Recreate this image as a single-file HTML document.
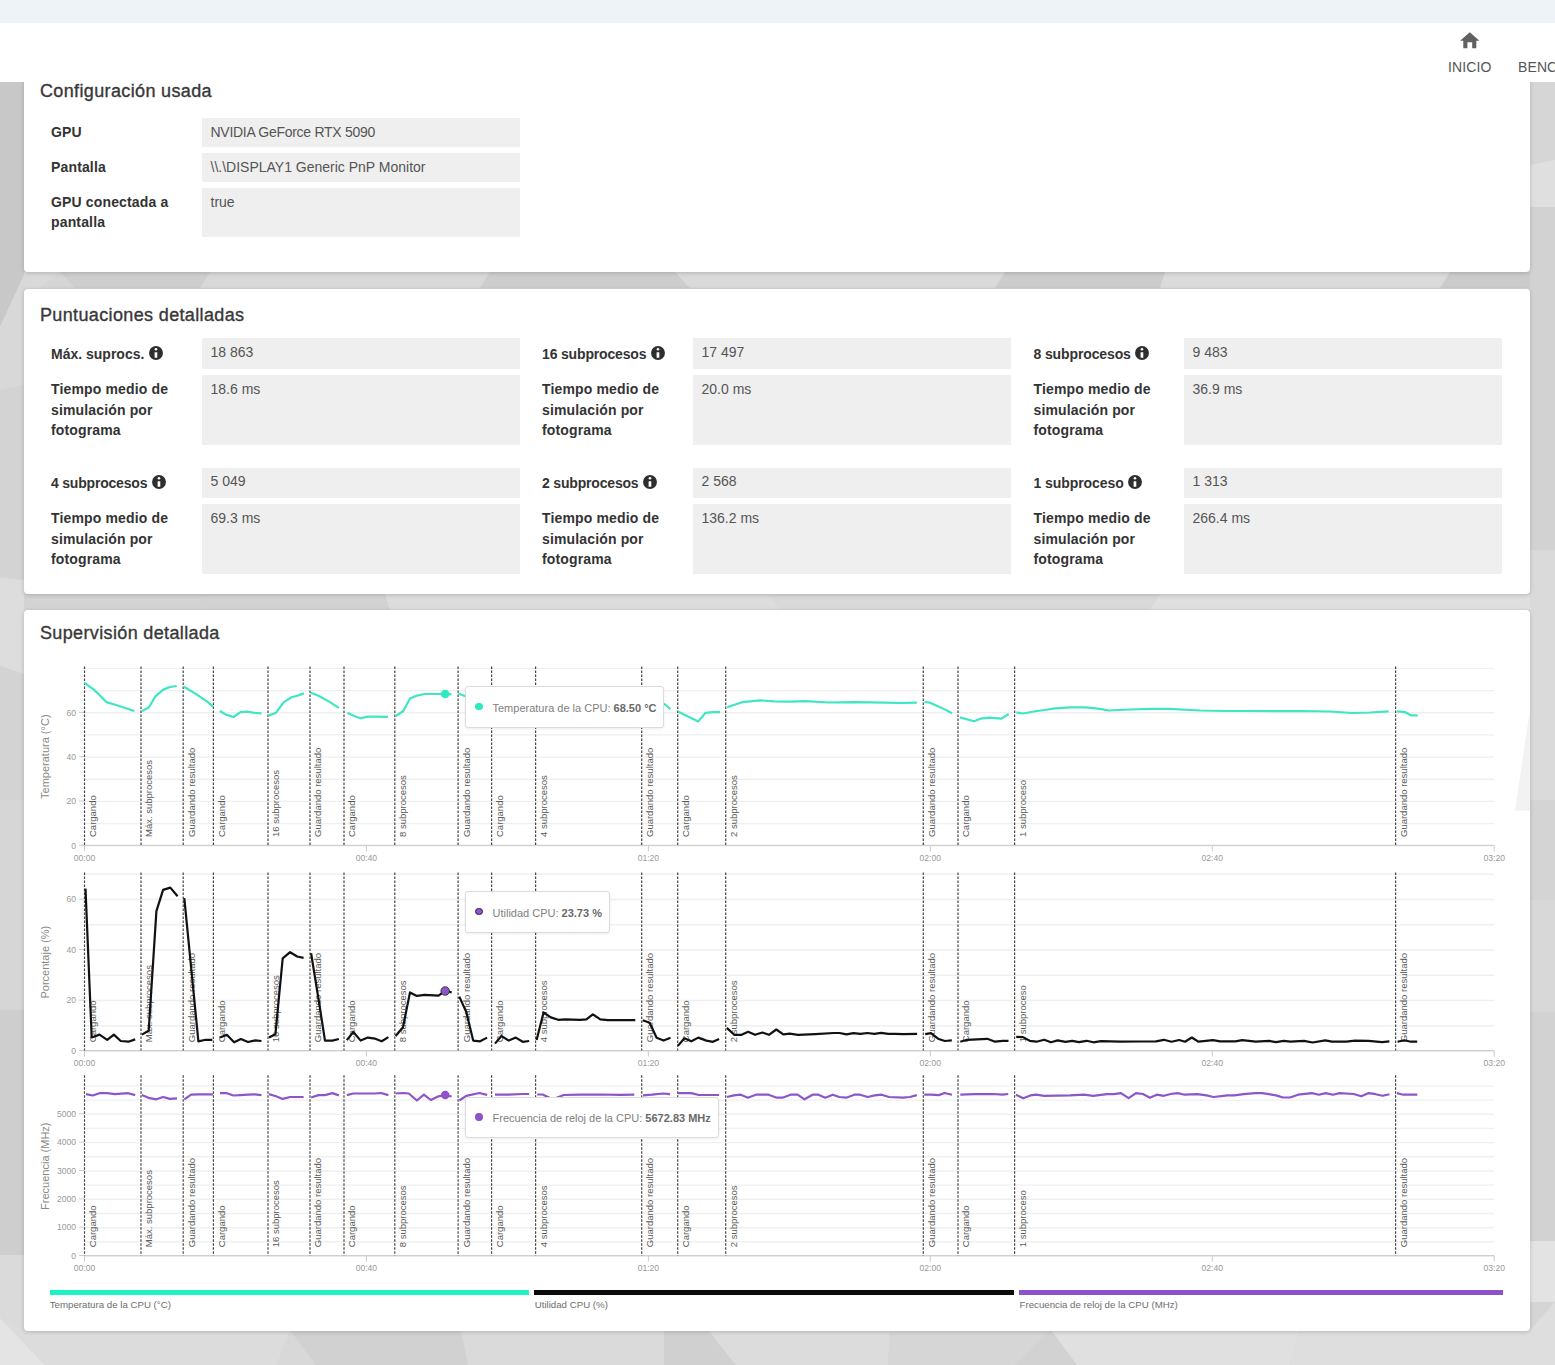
<!DOCTYPE html>
<html lang="es"><head><meta charset="utf-8"><title>Resultado</title>
<style>
*{box-sizing:border-box;margin:0;padding:0}
html,body{width:1555px;height:1365px;overflow:hidden}
body{position:relative;font-family:"Liberation Sans",Arial,sans-serif;background:#d5d5d5;}
.bg{position:absolute;left:0;top:0}
.topstrip{position:absolute;left:0;top:0;width:1555px;height:22.5px;background:#eef3f7}
.header{position:absolute;left:0;top:22.5px;width:1555px;height:59.5px;background:#fff;z-index:5}
.home{position:absolute;left:1459.8px;top:9.8px}
.nav{position:absolute;top:36.45px;font-size:14px;line-height:17px;color:#555;white-space:nowrap;letter-spacing:0.1px}
.card{position:absolute;left:24px;width:1506px;background:#fff;border-radius:4px;box-shadow:0 1px 4px rgba(0,0,0,.18)}
.ttl,.lab,.val,.ttxt,.ltx{position:absolute;white-space:nowrap}
.ttl{font-size:18px;line-height:24px;color:#383838;letter-spacing:0.36px;-webkit-text-stroke:0.35px #383838}
.lab{font-size:14px;line-height:20.5px;font-weight:bold;color:#333;letter-spacing:0.15px}
.val{font-size:14px;line-height:20.5px;color:#555}
.vbox{position:absolute;background:#efefef}
.ico{position:absolute;z-index:2}
.charts{position:absolute;left:0;top:0;z-index:2}
.charts text{font-family:"Liberation Sans",Arial,sans-serif}
.yl{font-size:8.6px;fill:#999;text-anchor:end}
.xl{font-size:8.6px;fill:#999;text-anchor:middle}
.yt{font-size:11px;fill:#888;text-anchor:middle}
.ev{font-size:9.5px;fill:#5a5a5a}
.tip{position:absolute;background:#fff;border:1px solid #dcdcdc;border-radius:3px;box-shadow:0 1px 3px rgba(0,0,0,.08);z-index:3}
.tdot{position:absolute;width:7.4px;height:7.4px;border-radius:50%;z-index:4}
.ttxt{font-size:11px;line-height:14px;color:#808080;z-index:4}
.ttxt b{color:#6a6a6a}
.lbar{position:absolute;top:1289.8px;height:4.8px;z-index:2}
.ltx{font-size:9.7px;line-height:12px;color:#6e6e6e;z-index:2}
</style></head>
<body>
<svg class="bg" width="1555" height="1365" viewBox="0 0 1555 1365">
<rect width="1555" height="1365" fill="#d5d5d5"/>
<polygon points="0,60 24,60 24,275 0,327" fill="#c8c8c8"/>
<polygon points="0,327 24,275 24,385 0,390" fill="#d8d8d8"/>
<polygon points="0,390 24,385 24,580 0,575" fill="#d3d3d3"/>
<polygon points="0,578 24,580 24,674 0,666" fill="#dddddd"/>
<polygon points="0,666 24,674 24,800 0,800" fill="#d3d3d3"/>
<polygon points="0,800 24,800 24,1010 0,1010" fill="#d6d6d6"/>
<polygon points="0,1010 24,1010 24,1255 0,1255" fill="#cecece"/>
<polygon points="0,1255 24,1255 24,1330 0,1318" fill="#dadada"/>
<polygon points="0,1318 45,1365 0,1365" fill="#e4e4e4"/>
<polygon points="0,1318 24,1330 290,1330 277,1365 45,1365" fill="#dcdcdc"/>
<polygon points="290,1330 316,1365 277,1365" fill="#d8d8d8"/>
<polygon points="290,1330 461,1330 468,1365 316,1365" fill="#d1d1d1"/>
<polygon points="461,1330 664,1330 664,1365 468,1365" fill="#dadada"/>
<polygon points="664,1330 708,1330 736,1365 664,1365" fill="#d0d0d0"/>
<polygon points="708,1330 890,1330 888,1365 736,1365" fill="#dcdcdc"/>
<polygon points="890,1330 1051,1330 1015,1365 888,1365" fill="#d6d6d6"/>
<polygon points="1051,1330 1077,1365 1015,1365" fill="#d2d2d2"/>
<polygon points="1051,1330 1300,1330 1290,1365 1077,1365" fill="#e0e0e0"/>
<polygon points="1300,1330 1530,1330 1555,1302 1555,1365 1290,1365" fill="#dedede"/>
<polygon points="24,272 60,272 40,288 24,288" fill="#d9d9d9"/>
<polygon points="60,272 210,272 200,288 75,288" fill="#cecece"/>
<polygon points="210,272 490,272 480,288 200,288" fill="#d8d8d8"/>
<polygon points="490,272 675,272 690,288 480,288" fill="#cdcdcd"/>
<polygon points="675,272 1005,272 995,288 690,288" fill="#dadada"/>
<polygon points="1005,272 1165,272 1160,288 995,288" fill="#cccccc"/>
<polygon points="1165,272 1450,272 1440,288 1160,288" fill="#dbdbdb"/>
<polygon points="1450,272 1530,272 1530,288 1440,288" fill="#cbcbcb"/>
<polygon points="24,594 200,594 210,610 24,610" fill="#d3d3d3"/>
<polygon points="200,594 385,594 390,610 210,610" fill="#d2d2d2"/>
<polygon points="385,594 770,594 780,610 390,610" fill="#dcdcdc"/>
<polygon points="770,594 1160,594 1150,610 780,610" fill="#d9d9d9"/>
<polygon points="1160,594 1530,594 1530,610 1150,610" fill="#dfdfdf"/>
<polygon points="1530,60 1555,60 1555,160 1530,165" fill="#d6d6d6"/>
<polygon points="1530,165 1555,160 1555,207 1530,207" fill="#dfdfdf"/>
<polygon points="1530,207 1555,207 1555,550 1530,550" fill="#d2d2d2"/>
<polygon points="1530,550 1555,550 1555,800 1530,800" fill="#dadada"/>
<polygon points="1530,800 1555,800 1555,900 1530,900" fill="#d4d4d4"/>
<polygon points="1530,900 1555,900 1555,1012 1530,1012" fill="#d8d8d8"/>
<polygon points="1530,1012 1555,1012 1555,1241 1530,1241" fill="#d2d2d2"/>
<polygon points="1530,1241 1555,1241 1555,1302 1530,1302" fill="#e3e3e3"/>
</svg>
<div class="topstrip"></div>
<div class="header">
<svg class="home" width="20" height="17" viewBox="0 0 20 17"><path d="M9.8,0.2 L19.4,8.8 L16.3,8.8 L16.3,16.2 L12.2,16.2 L12.2,10.3 L7.4,10.3 L7.4,16.2 L3.3,16.2 L3.3,8.8 L0.1,8.8 Z" fill="#606060"/></svg>
<div class="nav" style="left:1448px">INICIO</div>
<div class="nav" style="left:1518px">BENCHMARKS</div>
</div>
<div class="card" style="top:40px;height:232.3px"></div>
<div class="card" style="top:288.5px;height:305.5px"></div>
<div class="card" style="top:610px;height:720.5px"></div>
<div class="ttl" style="left:40px;top:79.06px;">Configuración usada</div>
<div class="vbox" style="left:202px;top:118.4px;width:318px;height:28.2px"></div>
<div class="lab" style="left:51px;top:121.80px;">GPU</div>
<div class="val" style="left:210.5px;top:122.00px;letter-spacing:-0.28px;">NVIDIA GeForce RTX 5090</div>
<div class="vbox" style="left:202px;top:153.3px;width:318px;height:28.4px"></div>
<div class="lab" style="left:51px;top:156.70px;">Pantalla</div>
<div class="val" style="left:210.5px;top:156.70px;">\\.\DISPLAY1 Generic PnP Monitor</div>
<div class="vbox" style="left:202px;top:187.9px;width:318px;height:49.3px"></div>
<div class="lab" style="left:51px;top:191.90px;">GPU conectada a<br>pantalla</div>
<div class="val" style="left:210.5px;top:191.50px;">true</div>
<div class="ttl" style="left:40px;top:302.76px;">Puntuaciones detalladas</div>
<svg class="ico" style="left:148.9px;top:345.8px" width="14" height="14" viewBox="0 0 14 14"><circle cx="7" cy="7" r="6.95" fill="#2e2e2e"/><circle cx="6.95" cy="3.25" r="1.3" fill="#fff"/><rect x="5.6" y="6.3" width="2.7" height="5.5" rx="0.3" fill="#fff"/></svg>
<svg class="ico" style="left:651.0px;top:346.1px" width="14" height="14" viewBox="0 0 14 14"><circle cx="7" cy="7" r="6.95" fill="#2e2e2e"/><circle cx="6.95" cy="3.25" r="1.3" fill="#fff"/><rect x="5.6" y="6.3" width="2.7" height="5.5" rx="0.3" fill="#fff"/></svg>
<svg class="ico" style="left:1134.9px;top:345.9px" width="14" height="14" viewBox="0 0 14 14"><circle cx="7" cy="7" r="6.95" fill="#2e2e2e"/><circle cx="6.95" cy="3.25" r="1.3" fill="#fff"/><rect x="5.6" y="6.3" width="2.7" height="5.5" rx="0.3" fill="#fff"/></svg>
<svg class="ico" style="left:151.9px;top:475.4px" width="14" height="14" viewBox="0 0 14 14"><circle cx="7" cy="7" r="6.95" fill="#2e2e2e"/><circle cx="6.95" cy="3.25" r="1.3" fill="#fff"/><rect x="5.6" y="6.3" width="2.7" height="5.5" rx="0.3" fill="#fff"/></svg>
<svg class="ico" style="left:643.2px;top:475.3px" width="14" height="14" viewBox="0 0 14 14"><circle cx="7" cy="7" r="6.95" fill="#2e2e2e"/><circle cx="6.95" cy="3.25" r="1.3" fill="#fff"/><rect x="5.6" y="6.3" width="2.7" height="5.5" rx="0.3" fill="#fff"/></svg>
<svg class="ico" style="left:1127.8px;top:475.4px" width="14" height="14" viewBox="0 0 14 14"><circle cx="7" cy="7" r="6.95" fill="#2e2e2e"/><circle cx="6.95" cy="3.25" r="1.3" fill="#fff"/><rect x="5.6" y="6.3" width="2.7" height="5.5" rx="0.3" fill="#fff"/></svg>
<div class="vbox" style="left:202px;top:338.2px;width:318px;height:30.7px"></div>
<div class="vbox" style="left:202px;top:375.1px;width:318px;height:69.9px"></div>
<div class="lab" style="left:51px;top:343.80px;letter-spacing:0px;">Máx. suprocs.</div>
<div class="val" style="left:210.5px;top:342.00px;">18 863</div>
<div class="lab" style="left:51px;top:379.00px;">Tiempo medio de<br>simulación por<br>fotograma</div>
<div class="val" style="left:210.5px;top:379.00px;">18.6 ms</div>
<div class="vbox" style="left:202px;top:467.6px;width:318px;height:30.6px"></div>
<div class="vbox" style="left:202px;top:504.4px;width:318px;height:69.6px"></div>
<div class="lab" style="left:51px;top:472.90px;letter-spacing:-0.2px;">4 subprocesos</div>
<div class="val" style="left:210.5px;top:471.30px;">5 049</div>
<div class="lab" style="left:51px;top:508.30px;">Tiempo medio de<br>simulación por<br>fotograma</div>
<div class="val" style="left:210.5px;top:508.30px;">69.3 ms</div>
<div class="vbox" style="left:693px;top:338.2px;width:318px;height:30.7px"></div>
<div class="vbox" style="left:693px;top:375.1px;width:318px;height:69.9px"></div>
<div class="lab" style="left:542px;top:343.80px;letter-spacing:-0.16px;">16 subprocesos</div>
<div class="val" style="left:701.5px;top:342.00px;">17 497</div>
<div class="lab" style="left:542px;top:379.00px;">Tiempo medio de<br>simulación por<br>fotograma</div>
<div class="val" style="left:701.5px;top:379.00px;">20.0 ms</div>
<div class="vbox" style="left:693px;top:467.6px;width:318px;height:30.6px"></div>
<div class="vbox" style="left:693px;top:504.4px;width:318px;height:69.6px"></div>
<div class="lab" style="left:542px;top:472.90px;letter-spacing:-0.18px;">2 subprocesos</div>
<div class="val" style="left:701.5px;top:471.30px;">2 568</div>
<div class="lab" style="left:542px;top:508.30px;">Tiempo medio de<br>simulación por<br>fotograma</div>
<div class="val" style="left:701.5px;top:508.30px;">136.2 ms</div>
<div class="vbox" style="left:1184px;top:338.2px;width:318px;height:30.7px"></div>
<div class="vbox" style="left:1184px;top:375.1px;width:318px;height:69.9px"></div>
<div class="lab" style="left:1033.5px;top:343.80px;letter-spacing:-0.12px;">8 subprocesos</div>
<div class="val" style="left:1192.5px;top:342.00px;">9 483</div>
<div class="lab" style="left:1033.5px;top:379.00px;">Tiempo medio de<br>simulación por<br>fotograma</div>
<div class="val" style="left:1192.5px;top:379.00px;">36.9 ms</div>
<div class="vbox" style="left:1184px;top:467.6px;width:318px;height:30.6px"></div>
<div class="vbox" style="left:1184px;top:504.4px;width:318px;height:69.6px"></div>
<div class="lab" style="left:1033.5px;top:472.90px;letter-spacing:-0.07px;">1 subproceso</div>
<div class="val" style="left:1192.5px;top:471.30px;">1 313</div>
<div class="lab" style="left:1033.5px;top:508.30px;">Tiempo medio de<br>simulación por<br>fotograma</div>
<div class="val" style="left:1192.5px;top:508.30px;">266.4 ms</div>
<div class="ttl" style="left:40px;top:620.56px;">Supervisión detallada</div>
<svg class="charts" width="1555" height="1365" viewBox="0 0 1555 1365">
<polygon points="1529.9,710.5 1515,810.5 1530,810.5" fill="#f2f2f2"/>
<path d="M84.5,845.8 H1494.2 M84.5,823.6 H1494.2 M84.5,801.4 H1494.2 M84.5,779.3 H1494.2 M84.5,757.1 H1494.2 M84.5,734.9 H1494.2 M84.5,712.7 H1494.2 M84.5,690.6 H1494.2 M84.5,668.4 H1494.2" stroke="#efefef" stroke-width="1.4" fill="none"/>
<path d="M79,845.4 H84.5 M79,801.0 H84.5 M79,756.7 H84.5 M79,712.4 H84.5" stroke="#ccc" stroke-width="1" fill="none"/>
<text x="76" y="848.5" class="yl">0</text>
<text x="76" y="804.1" class="yl">20</text>
<text x="76" y="759.8" class="yl">40</text>
<text x="76" y="715.5" class="yl">60</text>
<text transform="translate(48.6,756.7) rotate(-90)" class="yt">Temperatura (°C)</text>
<path d="M84.5,845.4 H1494.2" stroke="#d0d0d0" stroke-width="1.3" fill="none"/>
<path d="M84.5,845.4 V851.4 M366.4,845.4 V851.4 M648.4,845.4 V851.4 M930.3,845.4 V851.4 M1212.3,845.4 V851.4 M1494.2,845.4 V851.4" stroke="#ccc" stroke-width="1" fill="none"/>
<text x="84.5" y="860.7" class="xl">00:00</text>
<text x="366.4" y="860.7" class="xl">00:40</text>
<text x="648.4" y="860.7" class="xl">01:20</text>
<text x="930.3" y="860.7" class="xl">02:00</text>
<text x="1212.3" y="860.7" class="xl">02:40</text>
<text x="1494.2" y="860.7" class="xl">03:20</text>
<path d="M84.5,666.5 V845.4 M141.0,666.5 V845.4 M183.2,666.5 V845.4 M213.4,666.5 V845.4 M268.0,666.5 V845.4 M310.0,666.5 V845.4 M344.0,666.5 V845.4 M394.8,666.5 V845.4 M458.1,666.5 V845.4 M491.6,666.5 V845.4 M535.6,666.5 V845.4 M641.7,666.5 V845.4 M677.7,666.5 V845.4 M725.7,666.5 V845.4 M923.3,666.5 V845.4 M958.0,666.5 V845.4 M1014.6,666.5 V845.4 M1395.6,666.5 V845.4" stroke="#444" stroke-width="1.2" stroke-dasharray="2.5,1.5" fill="none"/>
<text transform="translate(95.9,837.0) rotate(-90)" class="ev">Cargando</text>
<text transform="translate(152.4,837.0) rotate(-90)" class="ev">Máx. subprocesos</text>
<text transform="translate(194.6,837.0) rotate(-90)" class="ev">Guardando resultado</text>
<text transform="translate(224.8,837.0) rotate(-90)" class="ev">Cargando</text>
<text transform="translate(279.4,837.0) rotate(-90)" class="ev">16 subprocesos</text>
<text transform="translate(321.4,837.0) rotate(-90)" class="ev">Guardando resultado</text>
<text transform="translate(355.4,837.0) rotate(-90)" class="ev">Cargando</text>
<text transform="translate(406.2,837.0) rotate(-90)" class="ev">8 subprocesos</text>
<text transform="translate(469.5,837.0) rotate(-90)" class="ev">Guardando resultado</text>
<text transform="translate(503.0,837.0) rotate(-90)" class="ev">Cargando</text>
<text transform="translate(547.0,837.0) rotate(-90)" class="ev">4 subprocesos</text>
<text transform="translate(653.1,837.0) rotate(-90)" class="ev">Guardando resultado</text>
<text transform="translate(689.1,837.0) rotate(-90)" class="ev">Cargando</text>
<text transform="translate(737.1,837.0) rotate(-90)" class="ev">2 subprocesos</text>
<text transform="translate(934.7,837.0) rotate(-90)" class="ev">Guardando resultado</text>
<text transform="translate(969.4,837.0) rotate(-90)" class="ev">Cargando</text>
<text transform="translate(1026.0,837.0) rotate(-90)" class="ev">1 subproceso</text>
<text transform="translate(1407.0,837.0) rotate(-90)" class="ev">Guardando resultado</text>
<path d="M84.5,1051.0 H1494.2 M84.5,1025.8 H1494.2 M84.5,1000.5 H1494.2 M84.5,975.3 H1494.2 M84.5,950.0 H1494.2 M84.5,924.8 H1494.2 M84.5,899.5 H1494.2 M84.5,874.3 H1494.2" stroke="#efefef" stroke-width="1.4" fill="none"/>
<path d="M79,1050.6 H84.5 M79,1000.1 H84.5 M79,949.6 H84.5 M79,899.1 H84.5" stroke="#ccc" stroke-width="1" fill="none"/>
<text x="76" y="1053.7" class="yl">0</text>
<text x="76" y="1003.2" class="yl">20</text>
<text x="76" y="952.7" class="yl">40</text>
<text x="76" y="902.2" class="yl">60</text>
<text transform="translate(48.6,962.2) rotate(-90)" class="yt">Porcentaje (%)</text>
<path d="M84.5,1050.6 H1494.2" stroke="#d0d0d0" stroke-width="1.3" fill="none"/>
<path d="M84.5,1050.6 V1056.6 M366.4,1050.6 V1056.6 M648.4,1050.6 V1056.6 M930.3,1050.6 V1056.6 M1212.3,1050.6 V1056.6 M1494.2,1050.6 V1056.6" stroke="#ccc" stroke-width="1" fill="none"/>
<text x="84.5" y="1065.9" class="xl">00:00</text>
<text x="366.4" y="1065.9" class="xl">00:40</text>
<text x="648.4" y="1065.9" class="xl">01:20</text>
<text x="930.3" y="1065.9" class="xl">02:00</text>
<text x="1212.3" y="1065.9" class="xl">02:40</text>
<text x="1494.2" y="1065.9" class="xl">03:20</text>
<path d="M84.5,872.4 V1050.6 M141.0,872.4 V1050.6 M183.2,872.4 V1050.6 M213.4,872.4 V1050.6 M268.0,872.4 V1050.6 M310.0,872.4 V1050.6 M344.0,872.4 V1050.6 M394.8,872.4 V1050.6 M458.1,872.4 V1050.6 M491.6,872.4 V1050.6 M535.6,872.4 V1050.6 M641.7,872.4 V1050.6 M677.7,872.4 V1050.6 M725.7,872.4 V1050.6 M923.3,872.4 V1050.6 M958.0,872.4 V1050.6 M1014.6,872.4 V1050.6 M1395.6,872.4 V1050.6" stroke="#444" stroke-width="1.2" stroke-dasharray="2.5,1.5" fill="none"/>
<text transform="translate(95.9,1042.2) rotate(-90)" class="ev">Cargando</text>
<text transform="translate(152.4,1042.2) rotate(-90)" class="ev">Máx. subprocesos</text>
<text transform="translate(194.6,1042.2) rotate(-90)" class="ev">Guardando resultado</text>
<text transform="translate(224.8,1042.2) rotate(-90)" class="ev">Cargando</text>
<text transform="translate(279.4,1042.2) rotate(-90)" class="ev">16 subprocesos</text>
<text transform="translate(321.4,1042.2) rotate(-90)" class="ev">Guardando resultado</text>
<text transform="translate(355.4,1042.2) rotate(-90)" class="ev">Cargando</text>
<text transform="translate(406.2,1042.2) rotate(-90)" class="ev">8 subprocesos</text>
<text transform="translate(469.5,1042.2) rotate(-90)" class="ev">Guardando resultado</text>
<text transform="translate(503.0,1042.2) rotate(-90)" class="ev">Cargando</text>
<text transform="translate(547.0,1042.2) rotate(-90)" class="ev">4 subprocesos</text>
<text transform="translate(653.1,1042.2) rotate(-90)" class="ev">Guardando resultado</text>
<text transform="translate(689.1,1042.2) rotate(-90)" class="ev">Cargando</text>
<text transform="translate(737.1,1042.2) rotate(-90)" class="ev">2 subprocesos</text>
<text transform="translate(934.7,1042.2) rotate(-90)" class="ev">Guardando resultado</text>
<text transform="translate(969.4,1042.2) rotate(-90)" class="ev">Cargando</text>
<text transform="translate(1026.0,1042.2) rotate(-90)" class="ev">1 subproceso</text>
<text transform="translate(1407.0,1042.2) rotate(-90)" class="ev">Guardando resultado</text>
<path d="M84.5,1256.0 H1494.2 M84.5,1241.8 H1494.2 M84.5,1227.7 H1494.2 M84.5,1213.5 H1494.2 M84.5,1199.3 H1494.2 M84.5,1185.1 H1494.2 M84.5,1171.0 H1494.2 M84.5,1156.8 H1494.2 M84.5,1142.6 H1494.2 M84.5,1128.4 H1494.2 M84.5,1114.2 H1494.2 M84.5,1100.1 H1494.2 M84.5,1085.9 H1494.2" stroke="#efefef" stroke-width="1.4" fill="none"/>
<path d="M79,1255.6 H84.5 M79,1227.2 H84.5 M79,1198.9 H84.5 M79,1170.5 H84.5 M79,1142.2 H84.5 M79,1113.8 H84.5" stroke="#ccc" stroke-width="1" fill="none"/>
<text x="76" y="1258.7" class="yl">0</text>
<text x="76" y="1230.3" class="yl">1000</text>
<text x="76" y="1202.0" class="yl">2000</text>
<text x="76" y="1173.6" class="yl">3000</text>
<text x="76" y="1145.3" class="yl">4000</text>
<text x="76" y="1116.9" class="yl">5000</text>
<text transform="translate(48.6,1166.2) rotate(-90)" class="yt">Frecuencia (MHz)</text>
<path d="M84.5,1255.6 H1494.2" stroke="#d0d0d0" stroke-width="1.3" fill="none"/>
<path d="M84.5,1255.6 V1261.6 M366.4,1255.6 V1261.6 M648.4,1255.6 V1261.6 M930.3,1255.6 V1261.6 M1212.3,1255.6 V1261.6 M1494.2,1255.6 V1261.6" stroke="#ccc" stroke-width="1" fill="none"/>
<text x="84.5" y="1270.9" class="xl">00:00</text>
<text x="366.4" y="1270.9" class="xl">00:40</text>
<text x="648.4" y="1270.9" class="xl">01:20</text>
<text x="930.3" y="1270.9" class="xl">02:00</text>
<text x="1212.3" y="1270.9" class="xl">02:40</text>
<text x="1494.2" y="1270.9" class="xl">03:20</text>
<path d="M84.5,1075.3 V1255.6 M141.0,1075.3 V1255.6 M183.2,1075.3 V1255.6 M213.4,1075.3 V1255.6 M268.0,1075.3 V1255.6 M310.0,1075.3 V1255.6 M344.0,1075.3 V1255.6 M394.8,1075.3 V1255.6 M458.1,1075.3 V1255.6 M491.6,1075.3 V1255.6 M535.6,1075.3 V1255.6 M641.7,1075.3 V1255.6 M677.7,1075.3 V1255.6 M725.7,1075.3 V1255.6 M923.3,1075.3 V1255.6 M958.0,1075.3 V1255.6 M1014.6,1075.3 V1255.6 M1395.6,1075.3 V1255.6" stroke="#444" stroke-width="1.2" stroke-dasharray="2.5,1.5" fill="none"/>
<text transform="translate(95.9,1247.2) rotate(-90)" class="ev">Cargando</text>
<text transform="translate(152.4,1247.2) rotate(-90)" class="ev">Máx. subprocesos</text>
<text transform="translate(194.6,1247.2) rotate(-90)" class="ev">Guardando resultado</text>
<text transform="translate(224.8,1247.2) rotate(-90)" class="ev">Cargando</text>
<text transform="translate(279.4,1247.2) rotate(-90)" class="ev">16 subprocesos</text>
<text transform="translate(321.4,1247.2) rotate(-90)" class="ev">Guardando resultado</text>
<text transform="translate(355.4,1247.2) rotate(-90)" class="ev">Cargando</text>
<text transform="translate(406.2,1247.2) rotate(-90)" class="ev">8 subprocesos</text>
<text transform="translate(469.5,1247.2) rotate(-90)" class="ev">Guardando resultado</text>
<text transform="translate(503.0,1247.2) rotate(-90)" class="ev">Cargando</text>
<text transform="translate(547.0,1247.2) rotate(-90)" class="ev">4 subprocesos</text>
<text transform="translate(653.1,1247.2) rotate(-90)" class="ev">Guardando resultado</text>
<text transform="translate(689.1,1247.2) rotate(-90)" class="ev">Cargando</text>
<text transform="translate(737.1,1247.2) rotate(-90)" class="ev">2 subprocesos</text>
<text transform="translate(934.7,1247.2) rotate(-90)" class="ev">Guardando resultado</text>
<text transform="translate(969.4,1247.2) rotate(-90)" class="ev">Cargando</text>
<text transform="translate(1026.0,1247.2) rotate(-90)" class="ev">1 subproceso</text>
<text transform="translate(1407.0,1247.2) rotate(-90)" class="ev">Guardando resultado</text>
<path d="M84.5,682.8 L93.8,689.6 L100.0,695.5 L106.3,702.1 L116.0,705.0 L127.5,708.8 L134.3,711.0 M142.0,711.0 L148.8,707.5 L155.5,696.3 L163.2,689.6 L170.0,687.0 L176.7,686.0 M184.0,686.7 L195.0,693.4 L206.6,701.1 L213.4,706.9 M219.8,711.0 L226.0,714.6 L233.6,717.0 L240.4,712.1 L247.0,711.7 L253.0,712.7 L261.6,713.3 M268.4,715.6 L276.1,712.7 L283.8,702.1 L291.5,697.3 L297.3,695.7 L304.0,693.4 M310.8,692.8 L318.5,695.7 L330.0,702.1 L338.8,707.9 M347.5,712.7 L354.0,716.0 L360.5,718.3 L367.6,716.6 L375.0,716.6 L387.9,716.8 M395.6,716.2 L403.3,711.0 L410.0,698.6 L415.9,695.9 L424.5,694.0 L445.2,694.0 L451.5,694.4 M458.3,693.4 L466.0,696.5 M660.0,702.5 L665.0,704.5 L670.5,709.0 M678.5,711.7 L688.0,716.5 L698.3,721.4 L705.5,712.8 L712.0,712.2 L719.9,712.2 M727.0,707.2 L742.0,702.2 L760.4,700.4 L774.6,701.4 L790.0,701.6 L805.5,701.2 L828.6,702.5 L854.3,702.2 L885.2,702.7 L900.6,703.0 L916.8,702.7 M924.5,702.0 L930.0,702.7 L941.8,707.9 L952.0,713.3 M959.8,717.4 L974.0,721.3 L980.4,718.7 L989.4,717.7 L1001.5,718.7 L1008.7,714.0 M1016.4,712.3 L1022.8,713.5 L1037.0,711.0 L1044.7,710.0 L1055.0,708.4 L1070.4,707.4 L1085.8,707.4 L1100.0,708.9 L1109.0,710.5 L1130.0,709.5 L1150.8,708.9 L1170.0,708.9 L1200.0,710.5 L1225.0,711.0 L1250.0,711.0 L1275.0,711.2 L1300.0,711.0 L1330.0,711.5 L1352.7,713.0 L1370.0,712.5 L1388.7,711.4 M1397.0,711.4 L1405.3,712.2 L1410.8,715.3 L1417.7,715.3" stroke="#3ee6c2" stroke-width="2.2" fill="none" stroke-linejoin="round"/>
<path d="M85.5,888.6 L91.7,1037.5 L99.5,1034.6 L107.2,1039.8 L113.9,1034.6 L120.7,1041.0 L128.4,1041.7 L135.2,1039.4 M141.9,1034.6 L148.7,1030.7 L156.4,911.1 L163.1,889.9 L170.3,887.6 L177.6,896.3 M184.3,898.2 L198.4,1041.4 L205.6,1039.8 L212.3,1039.8 M220.0,1037.5 L226.8,1034.8 L234.1,1042.3 L240.9,1039.0 L248.0,1042.0 L255.3,1040.4 L261.5,1041.0 M268.9,1037.5 L275.4,1034.2 L282.7,958.4 L290.1,952.2 L297.2,956.5 L303.6,957.8 M311.1,953.3 L318.5,999.0 L325.0,1040.6 L332.4,1040.6 L338.9,1039.0 M346.8,1040.1 L353.3,1032.0 L360.7,1040.6 L367.8,1037.6 L375.2,1038.7 L381.7,1041.3 L388.4,1037.1 M395.6,1036.0 L403.0,1027.2 L410.0,992.4 L416.9,995.9 L424.6,994.8 L438.5,995.7 L445.2,991.0 L451.7,992.4 M459.3,996.6 L466.2,1011.7 L473.2,1040.6 L480.1,1041.3 L487.1,1037.6 M495.0,1043.6 L501.4,1036.0 L508.8,1040.6 L515.8,1037.6 L522.7,1041.8 L529.2,1041.0 M536.6,1039.9 L543.6,1012.4 L550.8,1017.4 L558.2,1019.8 L565.1,1019.3 L580.2,1019.8 L586.4,1019.3 L592.9,1014.4 L600.3,1019.3 L608.0,1020.2 L635.3,1020.2 M642.7,1020.2 L649.7,1022.8 L656.6,1037.8 L663.6,1040.6 L670.5,1037.8 M677.9,1045.9 L684.4,1038.3 L691.4,1041.3 L698.3,1037.6 L706.4,1040.6 L712.9,1041.8 L719.1,1039.0 M726.8,1027.9 L734.2,1034.8 L741.6,1034.8 L748.1,1031.8 L755.0,1034.8 L762.4,1032.5 L768.9,1034.8 L776.3,1029.5 L783.3,1034.3 L789.8,1033.7 L797.9,1034.8 L815.2,1034.1 L833.7,1033.0 L839.5,1033.0 L846.5,1034.3 L853.4,1033.2 L860.4,1033.9 L867.3,1033.0 L874.3,1033.9 L881.2,1032.8 L888.2,1033.9 L895.1,1033.9 L903.2,1034.1 L917.1,1033.9 M925.2,1034.1 L931.0,1033.2 L938.0,1038.7 L944.9,1041.0 L951.8,1040.4 M960.3,1041.7 L967.0,1039.8 L987.3,1038.8 L995.0,1041.7 L1002.7,1040.8 L1008.5,1040.8 M1016.2,1036.9 L1023.0,1037.1 L1029.7,1040.8 L1036.5,1041.7 L1044.2,1039.8 L1051.0,1042.3 L1057.7,1040.4 L1065.4,1041.9 L1072.2,1040.8 L1078.9,1042.1 L1086.6,1040.8 L1093.4,1042.3 L1101.0,1041.2 L1120.0,1041.7 L1140.0,1041.5 L1156.0,1041.3 L1163.8,1039.8 L1171.5,1041.7 L1179.2,1040.0 L1185.0,1041.7 L1191.8,1037.5 L1198.5,1041.7 L1213.0,1040.2 L1220.0,1041.4 L1235.4,1041.4 L1242.2,1040.2 L1255.7,1041.7 L1269.2,1040.9 L1276.0,1042.1 L1283.7,1040.8 L1290.4,1041.7 L1303.9,1040.9 L1312.6,1042.5 L1325.2,1040.4 L1331.9,1041.7 L1346.4,1041.7 L1355.0,1040.6 L1368.6,1040.8 L1382.0,1042.1 L1389.4,1041.4 M1397.5,1041.7 L1404.3,1040.2 L1411.0,1041.7 L1417.2,1041.7" stroke="#111" stroke-width="2.2" fill="none" stroke-linejoin="round"/>
<path d="M86.0,1094.1 L92.7,1095.5 L99.5,1093.2 L107.2,1093.2 L114.9,1094.1 L121.6,1093.6 L128.4,1093.2 L135.2,1095.1 M141.9,1095.1 L149.6,1098.2 L156.4,1099.3 L163.1,1097.0 L169.9,1098.9 L177.0,1098.4 M184.3,1099.3 L191.1,1094.7 L197.9,1094.3 L212.9,1094.3 M220.0,1093.2 L226.8,1093.2 L233.5,1095.5 L240.3,1095.1 L248.0,1094.7 L254.8,1094.3 L261.5,1095.1 M268.9,1094.1 L276.0,1096.2 L282.7,1098.9 L290.1,1097.0 L303.6,1097.0 M311.1,1097.5 L318.5,1095.1 L325.0,1095.1 L332.4,1093.1 L338.9,1095.4 M346.8,1095.1 L353.3,1093.5 L360.2,1093.5 L375.0,1093.5 L381.0,1093.0 L388.4,1095.1 M395.6,1093.5 L403.0,1093.0 L408.8,1093.5 L416.9,1100.5 L423.9,1094.7 L430.8,1100.0 L438.5,1096.3 L445.2,1095.1 L451.7,1096.5 M459.3,1100.5 L466.2,1095.8 L479.4,1093.0 L487.1,1094.9 M495.0,1094.7 L508.4,1094.7 L522.7,1094.0 L529.2,1094.0 M537.2,1094.5 L542.6,1094.5 L550.0,1098.0 L556.0,1098.0 L563.8,1095.0 L580.0,1094.7 L600.0,1094.5 L620.0,1094.9 L634.3,1094.7 M643.0,1095.4 L651.9,1094.7 L663.2,1093.5 L670.0,1094.1 M677.7,1093.1 L691.2,1093.1 L698.9,1095.0 L719.1,1095.0 M727.0,1097.0 L733.9,1095.4 L740.8,1094.7 L747.8,1097.7 L755.9,1094.7 L768.6,1094.7 L776.7,1097.7 L782.5,1097.7 L790.6,1094.7 L797.6,1094.7 L804.5,1099.3 L812.6,1094.7 L818.4,1094.7 L825.3,1097.7 L832.8,1094.7 L839.2,1097.0 L846.2,1097.7 L854.3,1094.7 L860.1,1094.7 L867.7,1097.0 L874.7,1095.4 L881.6,1094.7 L889.0,1097.0 L902.9,1097.7 L909.9,1097.0 L916.8,1095.1 M924.2,1094.7 L930.7,1094.7 L938.8,1095.1 L944.6,1093.0 L952.0,1094.7 M960.3,1094.7 L974.7,1094.2 L993.2,1094.0 L1002.5,1094.7 L1008.3,1094.0 M1015.9,1094.7 L1023.3,1098.2 L1030.3,1095.4 L1036.0,1094.7 L1044.2,1095.8 L1070.0,1095.4 L1083.9,1094.7 L1093.2,1095.8 L1107.0,1094.2 L1114.0,1094.2 L1120.9,1093.1 L1128.6,1098.2 L1136.0,1093.1 L1142.9,1094.0 L1149.9,1097.7 L1156.8,1094.7 L1163.8,1095.8 L1170.7,1094.0 L1177.7,1093.1 L1184.6,1094.7 L1197.3,1094.2 L1206.6,1095.4 L1213.6,1097.0 L1227.4,1095.4 L1234.4,1095.4 L1243.7,1094.2 L1255.2,1093.1 L1262.2,1093.1 L1276.0,1095.4 L1283.0,1097.5 L1290.0,1097.5 L1298.0,1094.7 L1312.0,1093.1 L1318.9,1094.7 L1325.8,1093.1 L1332.8,1094.7 L1339.7,1093.1 L1353.6,1094.0 L1361.3,1096.3 L1368.7,1093.1 L1375.6,1094.2 L1382.6,1095.8 L1389.5,1094.2 M1396.9,1093.1 L1403.4,1094.7 L1417.3,1094.7" stroke="#8e55c8" stroke-width="2.2" fill="none" stroke-linejoin="round"/>
<circle cx="445.2" cy="694" r="4.3" fill="#2fe9c0"/>
<circle cx="445.2" cy="991" r="4.3" fill="#8e55c8" stroke="#222" stroke-width="0.8"/>
<circle cx="445.2" cy="1095" r="4.3" fill="#8e55c8"/>
</svg>
<div class="tip" style="left:465.1px;top:686.0px;width:199.2px;height:41.6px"></div>
<div class="tdot" style="left:475.3px;top:702.9px;background:#2fe9c0;"></div>
<div class="ttxt" style="left:492.5px;top:700.79px;">Temperatura de la CPU: <b>68.50 °C</b></div>
<div class="tip" style="left:465.1px;top:891.2px;width:145.2px;height:41.4px"></div>
<div class="tdot" style="left:475.3px;top:908.0px;background:#8e55c8;border:1.3px solid #341a52"></div>
<div class="ttxt" style="left:492.5px;top:905.79px;">Utilidad CPU: <b>23.73 %</b></div>
<div class="tip" style="left:465.4px;top:1096.5px;width:253.2px;height:41.2px"></div>
<div class="tdot" style="left:475.3px;top:1113.2px;background:#8e55c8;"></div>
<div class="ttxt" style="left:492.5px;top:1110.59px;">Frecuencia de reloj de la CPU: <b>5672.83 MHz</b></div>
<div class="lbar" style="left:49.7px;width:479px;background:#1ef2c4"></div>
<div class="lbar" style="left:533.8px;width:479.9px;background:#0b0b0b"></div>
<div class="lbar" style="left:1019.1px;width:483.8px;background:#8e52c8"></div>
<div class="ltx" style="left:49.7px;top:1299.24px">Temperatura de la CPU (°C)</div>
<div class="ltx" style="left:534.7px;top:1299.24px">Utilidad CPU (%)</div>
<div class="ltx" style="left:1019.5px;top:1299.24px">Frecuencia de reloj de la CPU (MHz)</div>
</body></html>
